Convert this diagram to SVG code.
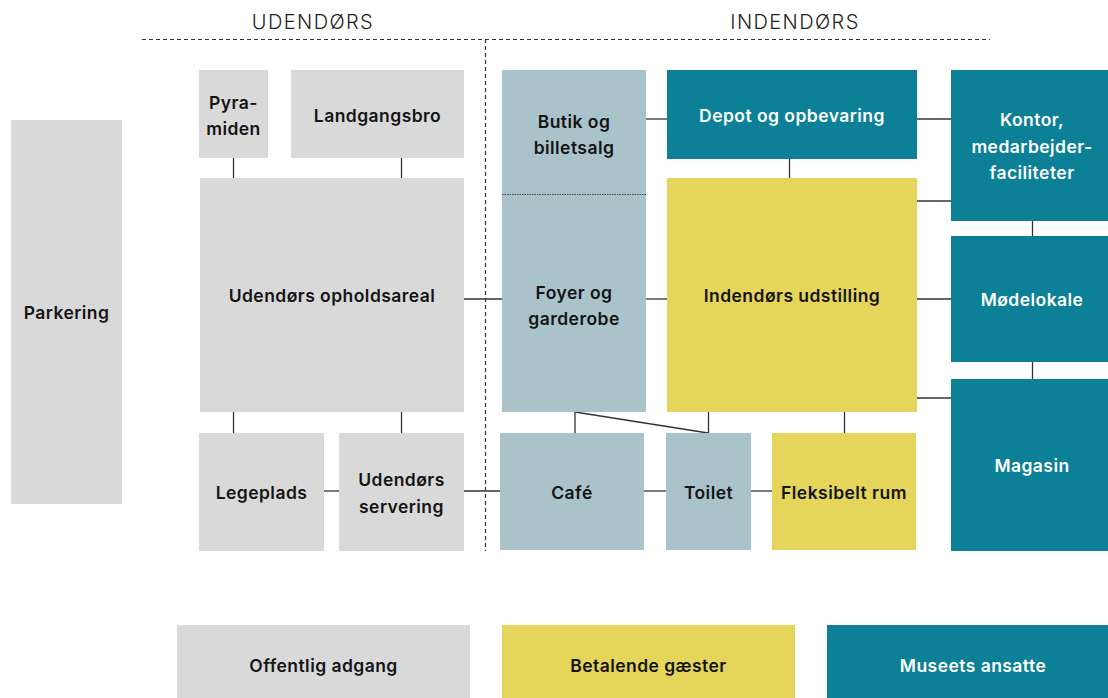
<svg xmlns="http://www.w3.org/2000/svg" width="1108" height="698" viewBox="0 0 1108 698">
<style>
.g{fill:#d9d9d9}.b{fill:#aac3cb}.t{fill:#0b8096}.y{fill:#e5d55a}
text{font-family:Inter,"Noto Sans","Liberation Sans",sans-serif;font-size:17.5px;letter-spacing:0.45px;font-weight:600;text-anchor:middle;dominant-baseline:central;fill:#141414}
.w{fill:#ffffff}
.h{font-size:20px;letter-spacing:1.4px;font-weight:300;fill:#222}
.c line{stroke:#333;stroke-width:1.3}
</style>
<rect width="1108" height="698" fill="#fff"/>
<g id="headers">
<text class="h" x="313" y="22">UDENDØRS</text>
<text class="h" x="795" y="22">INDENDØRS</text>
<line x1="142" y1="39.5" x2="990" y2="39.5" stroke="#333" stroke-width="1.2" stroke-dasharray="4,3"/>
<line x1="485.5" y1="39" x2="485.5" y2="551" stroke="#333" stroke-width="1.2" stroke-dasharray="4,3"/>
</g>
<g class="c" id="connectors">
<line x1="233.5" y1="158" x2="233.5" y2="178"/>
<line x1="401.5" y1="158" x2="401.5" y2="178"/>
<line x1="233.5" y1="412" x2="233.5" y2="433"/>
<line x1="401.5" y1="412" x2="401.5" y2="433"/>
<line x1="464" y1="299" x2="502" y2="299"/>
<line x1="324" y1="491" x2="339" y2="491"/>
<line x1="464" y1="491" x2="500" y2="491"/>
<line x1="646" y1="119" x2="667" y2="119"/>
<line x1="646" y1="299" x2="667" y2="299"/>
<line x1="575" y1="412" x2="575" y2="433"/>
<line x1="575" y1="412" x2="708" y2="433"/>
<line x1="708.5" y1="412" x2="708.5" y2="433"/>
<line x1="644" y1="491" x2="666" y2="491"/>
<line x1="751" y1="491" x2="772" y2="491"/>
<line x1="789.5" y1="159" x2="789.5" y2="178"/>
<line x1="844.5" y1="412" x2="844.5" y2="433"/>
<line x1="917" y1="119" x2="951" y2="119"/>
<line x1="917" y1="201" x2="951" y2="201"/>
<line x1="917" y1="299" x2="951" y2="299"/>
<line x1="917" y1="398" x2="951" y2="398"/>
<line x1="1032.5" y1="221" x2="1032.5" y2="236"/>
<line x1="1032.5" y1="362" x2="1032.5" y2="379"/>
</g>
<g id="parkering"><rect class="g" x="11" y="120" width="111" height="384"/><text x="66.5" y="312">Parkering</text></g>
<g id="pyramiden"><rect class="g" x="199" y="70" width="69" height="88"/><text x="233.5" y="102">Pyra-</text><text x="233.5" y="128">miden</text></g>
<g id="landgangsbro"><rect class="g" x="291" y="70" width="173" height="88"/><text x="377.5" y="115">Landgangsbro</text></g>
<g id="opholdsareal"><rect class="g" x="200" y="178" width="264" height="234"/><text x="332" y="295">Udendørs opholdsareal</text></g>
<g id="legeplads"><rect class="g" x="199" y="433" width="125" height="118"/><text x="261.5" y="492">Legeplads</text></g>
<g id="servering"><rect class="g" x="339" y="433" width="125" height="118"/><text x="401.5" y="479">Udendørs</text><text x="401.5" y="506">servering</text></g>
<g id="butik-foyer"><rect class="b" x="502" y="70" width="144" height="342"/>
<line x1="502" y1="194.5" x2="646" y2="194.5" stroke="#444" stroke-width="1" stroke-dasharray="1.5,1"/>
<text x="574" y="121">Butik og</text><text x="574" y="147">billetsalg</text>
<text x="574" y="292">Foyer og</text><text x="574" y="318">garderobe</text></g>
<g id="depot"><rect class="t" x="667" y="70" width="250" height="89"/><text class="w" x="792" y="115">Depot og opbevaring</text></g>
<g id="udstilling"><rect class="y" x="667" y="178" width="250" height="234"/><text x="792" y="295">Indendørs udstilling</text></g>
<g id="cafe"><rect class="b" x="500" y="433" width="144" height="117"/><text x="572" y="492">Café</text></g>
<g id="toilet"><rect class="b" x="666" y="433" width="85" height="117"/><text x="708.5" y="492">Toilet</text></g>
<g id="fleksibelt"><rect class="y" x="772" y="433" width="144" height="117"/><text x="844" y="492">Fleksibelt rum</text></g>
<g id="kontor"><rect class="t" x="951" y="70" width="157" height="151"/><text class="w" x="1032" y="119">Kontor,</text><text class="w" x="1032" y="146">medarbejder-</text><text class="w" x="1032" y="172">faciliteter</text></g>
<g id="modelokale"><rect class="t" x="951" y="236" width="157" height="126"/><text class="w" x="1032" y="299">Mødelokale</text></g>
<g id="magasin"><rect class="t" x="951" y="379" width="157" height="172"/><text class="w" x="1032" y="465">Magasin</text></g>
<g id="legend">
<rect class="g" x="177" y="625" width="293" height="73"/><text x="323.5" y="665">Offentlig adgang</text>
<rect class="y" x="502" y="625" width="293" height="73"/><text x="648.5" y="665">Betalende gæster</text>
<rect class="t" x="827" y="625" width="281" height="73"/><text class="w" x="973" y="665">Museets ansatte</text>
</g>
</svg>
